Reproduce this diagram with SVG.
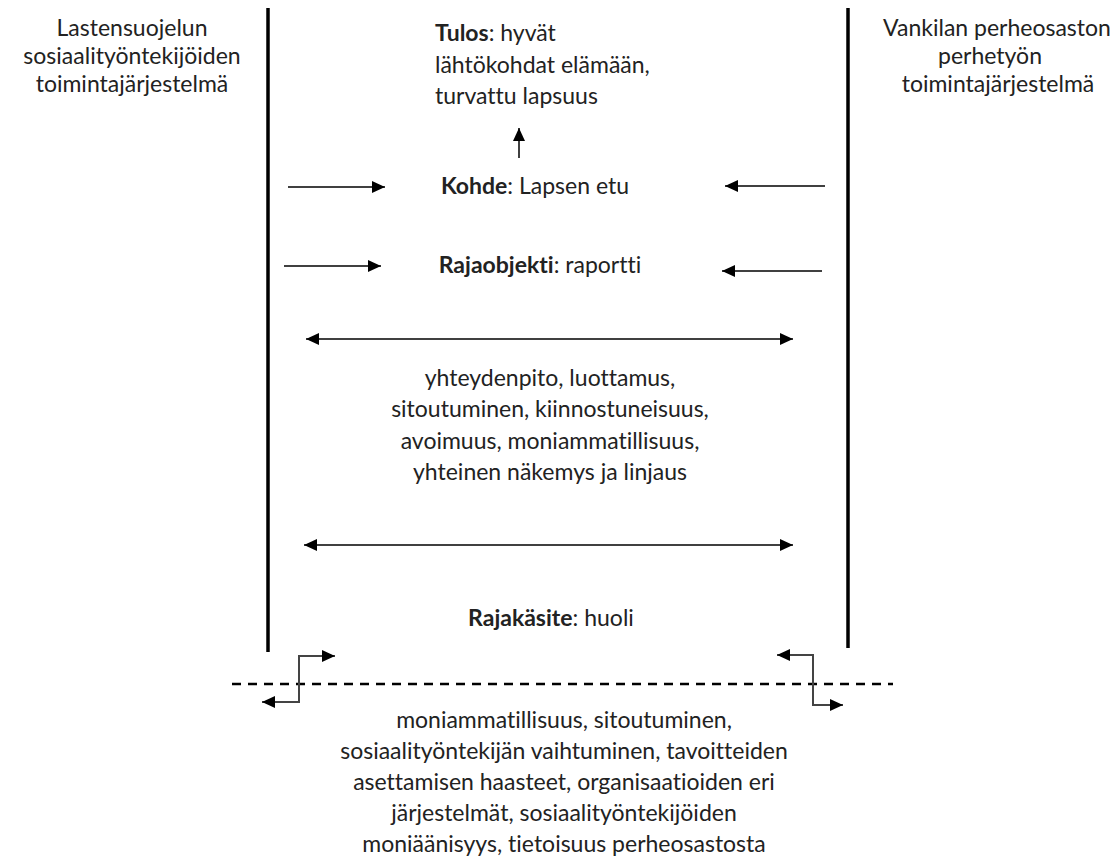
<svg xmlns="http://www.w3.org/2000/svg" width="1120" height="858" viewBox="0 0 1120 858">
<style>
text{font-family:Lato,"Open Sans",sans-serif;font-size:23px;fill:#222;font-variant-ligatures:none}
.c{text-anchor:middle}
.b{font-weight:bold}
.ln{stroke:#000;stroke-width:1.5;fill:none}
.el{stroke:#444;stroke-width:2;fill:none}
</style>
<defs>
<marker id="ab" viewBox="0 0 13 12" refX="13" refY="6" markerWidth="13" markerHeight="12" markerUnits="userSpaceOnUse" orient="auto-start-reverse"><path d="M0,0 L13,6 L0,12 z" fill="#000"/></marker>
</defs>
<rect width="1120" height="858" fill="#fff"/>
<g id="left-system">
<text class="c" x="132" y="36">Lastensuojelun</text>
<text class="c" x="132" y="64">sosiaalityöntekijöiden</text>
<text class="c" x="132" y="92">toimintajärjestelmä</text>
</g>
<g id="right-system">
<text class="c" x="997" y="36">Vankilan perheosaston</text>
<text class="c" x="990" y="64">perhetyön</text>
<text class="c" x="998" y="92">toimintajärjestelmä</text>
</g>
<g id="tulos">
<text x="435" y="41"><tspan class="b">Tulos</tspan>: hyvät</text>
<text x="435" y="73">lähtökohdat elämään,</text>
<text x="435" y="104">turvattu lapsuus</text>
</g>
<g id="kohde"><text class="c" x="535" y="194"><tspan class="b">Kohde</tspan>: Lapsen etu</text></g>
<g id="rajaobjekti"><text class="c" x="540" y="273"><tspan class="b">Rajaobjekti</tspan>: raportti</text></g>
<g id="factors">
<text class="c" x="550" y="386">yhteydenpito, luottamus,</text>
<text class="c" x="550" y="417">sitoutuminen, kiinnostuneisuus,</text>
<text class="c" x="550" y="449">avoimuus, moniammatillisuus,</text>
<text class="c" x="550" y="480">yhteinen näkemys ja linjaus</text>
</g>
<g id="rajakasite"><text class="c" x="551" y="626"><tspan class="b">Rajakäsite</tspan>: huoli</text></g>
<g id="obstacles">
<text class="c" x="564" y="728">moniammatillisuus, sitoutuminen,</text>
<text class="c" x="564" y="759">sosiaalityöntekijän vaihtuminen, tavoitteiden</text>
<text class="c" x="564" y="790">asettamisen haasteet, organisaatioiden eri</text>
<text class="c" x="564" y="821">järjestelmät, sosiaalityöntekijöiden</text>
<text class="c" x="564" y="852">moniäänisyys, tietoisuus perheosastosta</text>
</g>
<g id="connectors">
<line x1="268" y1="8" x2="268" y2="652" stroke="#000" stroke-width="3.5"/>
<line x1="848" y1="8" x2="848" y2="648" stroke="#000" stroke-width="3.5"/>
<line x1="232" y1="684" x2="893" y2="684" stroke="#000" stroke-width="2.5" stroke-dasharray="9,7"/>
<line class="ln" x1="519" y1="158" x2="519" y2="128" marker-end="url(#ab)"/>
<line class="ln" x1="288" y1="187" x2="385" y2="187" marker-end="url(#ab)"/>
<line class="ln" x1="825" y1="186" x2="725" y2="186" marker-end="url(#ab)"/>
<line class="ln" x1="284" y1="266" x2="381" y2="266" marker-end="url(#ab)"/>
<line class="ln" x1="822" y1="271" x2="722" y2="271" marker-end="url(#ab)"/>
<line class="ln" x1="306" y1="339" x2="793" y2="339" marker-start="url(#ab)" marker-end="url(#ab)"/>
<line class="ln" x1="304" y1="545" x2="793" y2="545" marker-start="url(#ab)" marker-end="url(#ab)"/>
<polyline class="el" points="335,656 299,656 299,702 262,702" marker-start="url(#ab)" marker-end="url(#ab)"/>
<polyline class="el" points="777,655 813,655 813,705 843,705" marker-start="url(#ab)" marker-end="url(#ab)"/>
</g>
</svg>
